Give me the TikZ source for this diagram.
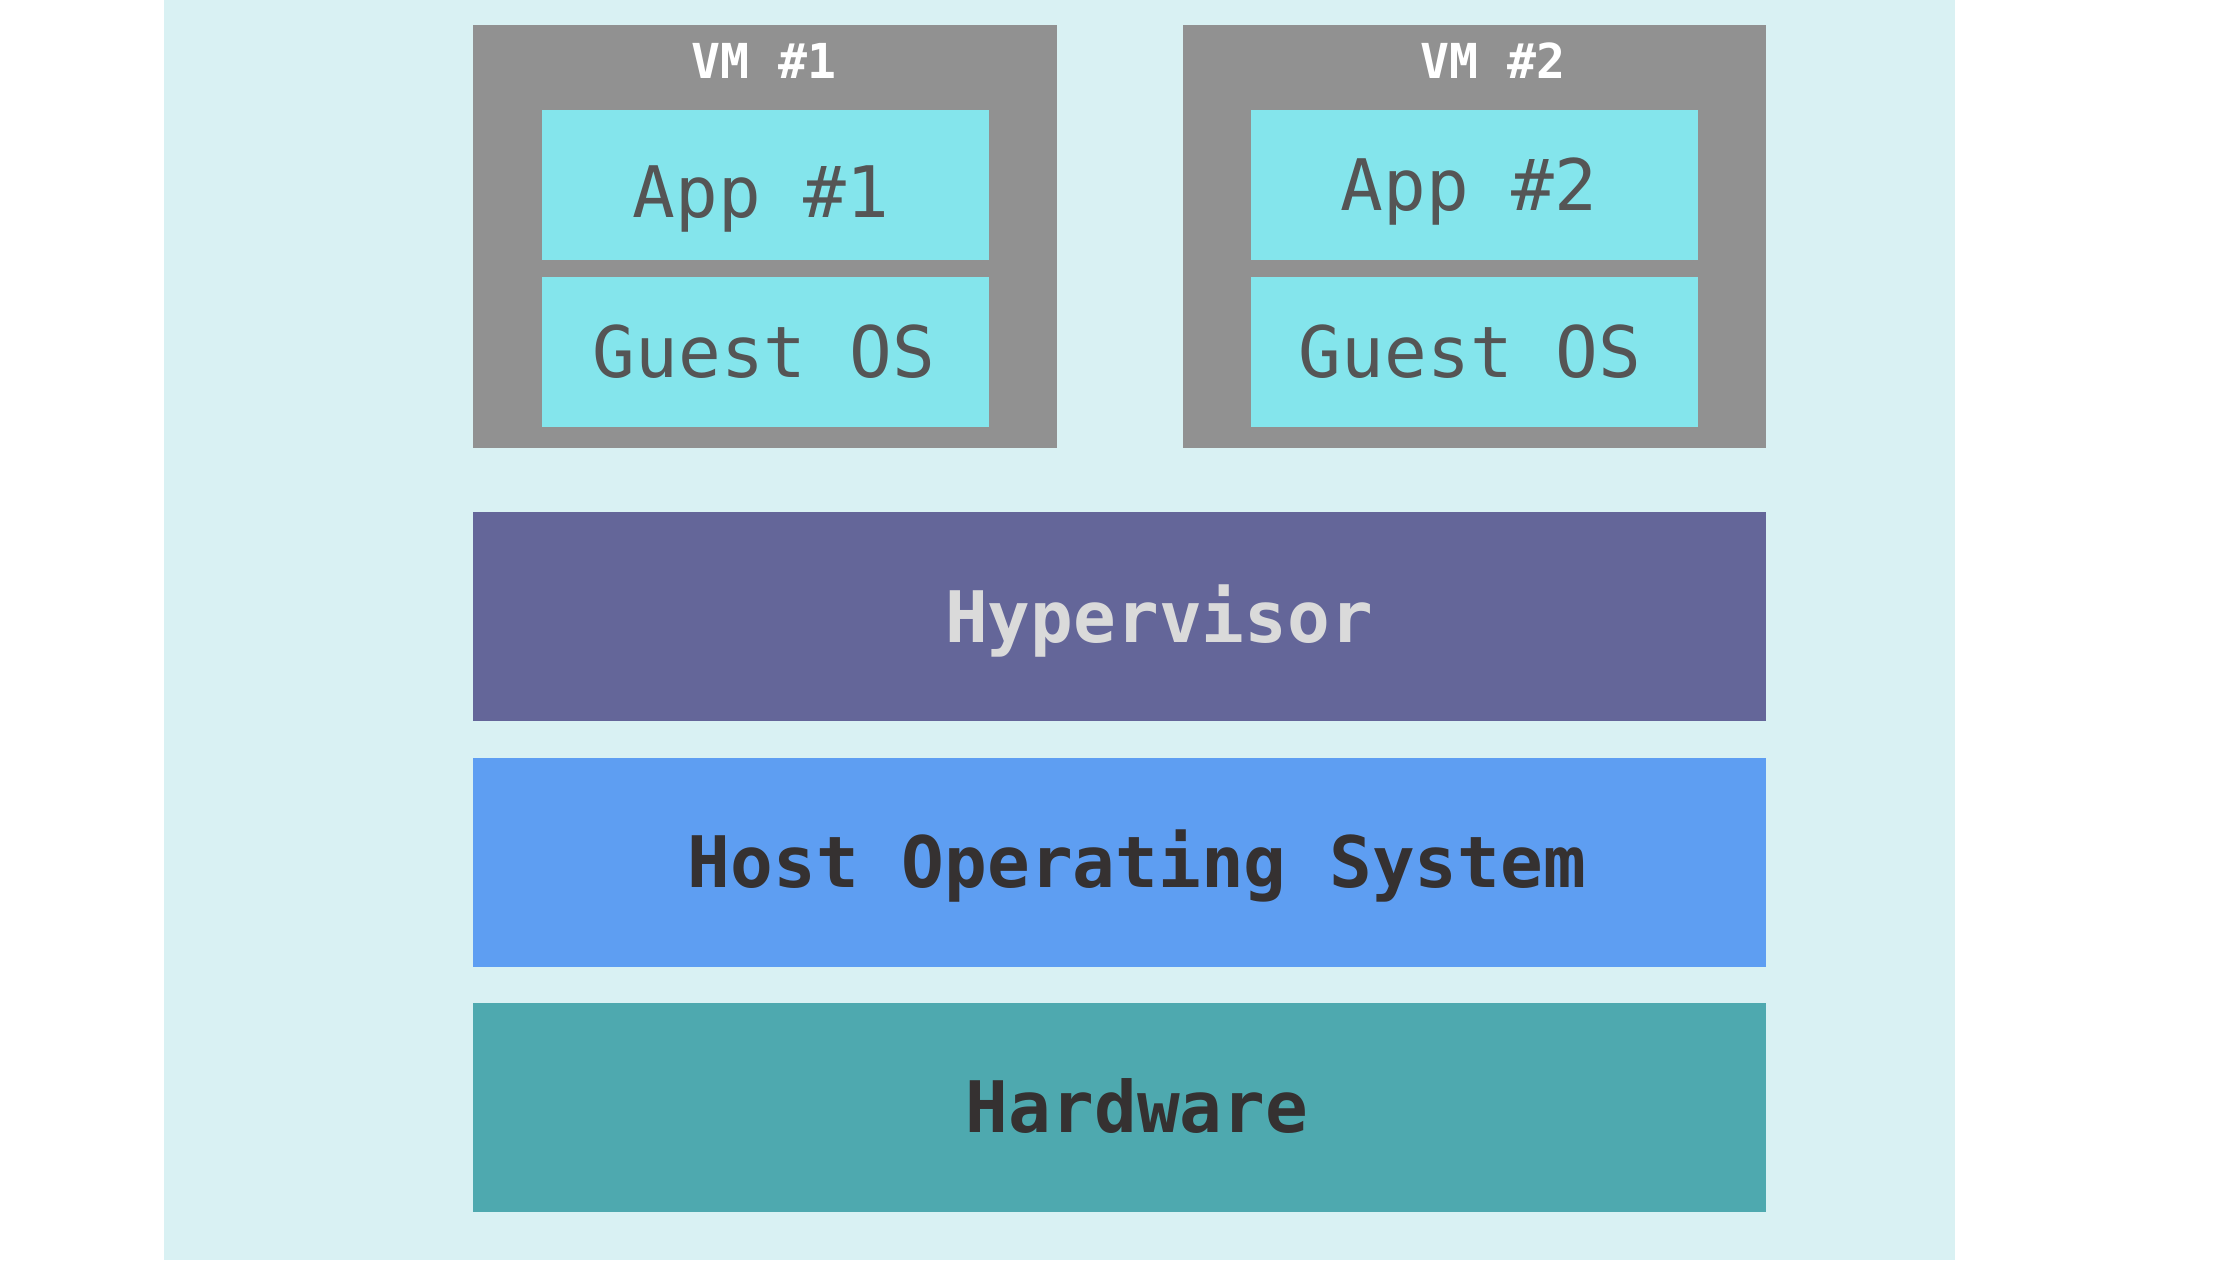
\documentclass[tikz,border=0pt]{standalone}
\usepackage{fontspec}
\newfontfamily\dvmono{DejaVu Sans Mono}
\definecolor{panelbg}{HTML}{D9F1F3}
\definecolor{vmgray}{HTML}{919191}
\definecolor{appcyan}{HTML}{84E5EC}
\definecolor{apptext}{HTML}{555555}
\definecolor{hypfill}{HTML}{646699}
\definecolor{hyptext}{HTML}{DADADA}
\definecolor{hostfill}{HTML}{5E9EF2}
\definecolor{hwfill}{HTML}{4EA9AF}
\definecolor{darktext}{HTML}{353131}
\tikzset{
  lbl/.style={inner sep=0pt, anchor=base},
  biglbl/.style={lbl, font=\dvmono\bfseries\fontsize{20.2pt}{24pt}\selectfont},
  applbl/.style={lbl, text=apptext, font=\dvmono\fontsize{20.2pt}{24pt}\selectfont},
  vmlbl/.style={lbl, text=white, font=\dvmono\bfseries\fontsize{13.7pt}{16pt}\selectfont},
}
\begin{document}
\begin{tikzpicture}[x=0.01cm,y=-0.01cm]
\useasboundingbox (0,0) rectangle (2240,1260);
\fill[white] (0,0) rectangle (2240,1260);
\fill[panelbg] (164,0) rectangle (1955,1260);
% VMs
\fill[vmgray] (473,25) rectangle (1057,448);
\fill[vmgray] (1183,25) rectangle (1766,448);
\fill[appcyan] (542,110) rectangle (989,260);
\fill[appcyan] (542,277) rectangle (989,427);
\fill[appcyan] (1251,110) rectangle (1698,260);
\fill[appcyan] (1251,277) rectangle (1698,427);
\node[vmlbl] (vm1) at (764,78) {VM \#1};
\node[vmlbl] (vm2) at (1493,78) {VM \#2};
\node[applbl] (app1) at (761,217) {App \#1};
\node[applbl] (app2) at (1469,210) {App \#2};
\node[applbl] (gos1) at (764,377) {Guest OS};
\node[applbl] (gos2) at (1470,377) {Guest OS};
% layers
\fill[hypfill] (473,512) rectangle (1766,721);
\fill[hostfill] (473,758) rectangle (1766,967);
\fill[hwfill] (473,1003) rectangle (1766,1212);
\node[biglbl, text=hyptext] (hyp) at (1159,642) {Hypervisor};
\node[biglbl, text=darktext] (host) at (1137,887) {Host Operating System};
\node[biglbl, text=darktext] (hw) at (1137,1132) {Hardware};
\end{tikzpicture}
\end{document}
